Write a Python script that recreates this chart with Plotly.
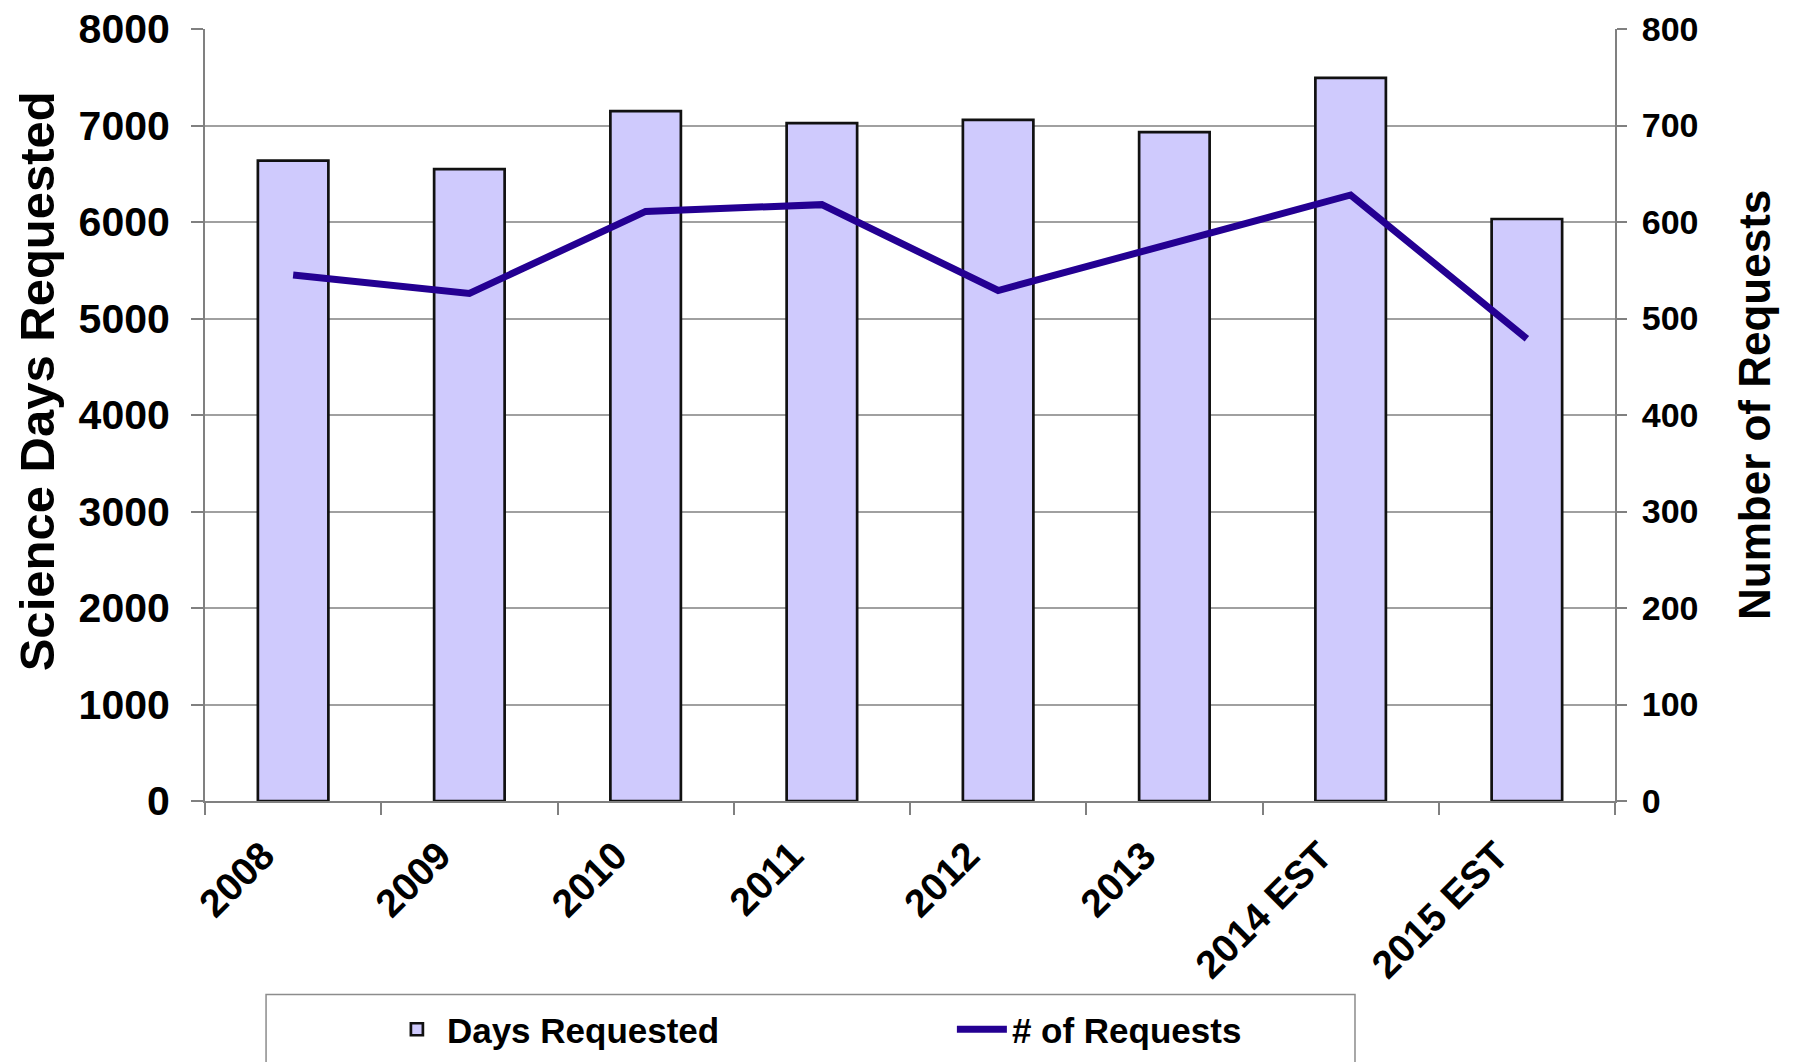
import plotly.graph_objects as go

years = ["2008", "2009", "2010", "2011", "2012", "2013", "2014 EST", "2015 EST"]
days_requested = [6635, 6548, 7148, 7024, 7059, 6931, 7493, 6031]
num_requests = [545, 526, 611, 618, 529, 578, 628, 479]
left_ticks = [0, 1000, 2000, 3000, 4000, 5000, 6000, 7000, 8000]
right_ticks = [0, 100, 200, 300, 400, 500, 600, 700, 800]

FONT = "Liberation Sans, Arial, sans-serif"
BAR_FILL = "#CFCAFD"
LINE_COL = "#240092"
GRID = "#A0A0A0"
AXIS = "#808080"

fig = go.Figure()
fig.add_trace(go.Bar(
    x=years, y=days_requested, name="Days Requested",
    marker=dict(color=BAR_FILL, line=dict(color="#111111", width=2.7)),
    width=0.4, yaxis="y",
))
fig.add_trace(go.Scatter(
    x=years, y=num_requests, name="# of Requests", mode="lines",
    line=dict(color=LINE_COL, width=7), yaxis="y2",
))

fig.update_layout(
    width=1795, height=1062,
    margin=dict(l=197, r=188, t=21, b=268.5, autoexpand=False),
    paper_bgcolor="white", plot_bgcolor="white",
    font=dict(family=FONT, color="black", weight="bold"),
    showlegend=True,
    legend=dict(
        orientation="h", x=0.129, xanchor="left", y=-0.296, yanchor="middle",
        font=dict(family=FONT, size=35, color="black", weight="bold"),
        bgcolor="rgba(0,0,0,0)", borderwidth=0,
        entrywidth=500, entrywidthmode="pixels", itemwidth=50,
    ),
    xaxis=dict(
        type="category", categoryorder="array", categoryarray=years,
        range=[-0.5, 7.5], automargin=False,
        tickangle=-45, tickfont=dict(family=FONT, size=39, weight="bold"),
        ticks="outside", ticklen=12, tickcolor=AXIS, tickwidth=1.5,
        tickson="boundaries",
        showline=True, linecolor=AXIS, linewidth=2,
        showgrid=False, zeroline=False,
        ticklabelstandoff=14, ticklabelshift=-30,
        ticklabeloverflow="allow",
    ),
    xaxis2=dict(
        overlaying="x", anchor="y", side="bottom", automargin=False,
        range=[-0.5, 7.5], tickvals=[i - 0.5 for i in range(len(years) + 1)],
        ticks="inside", ticklen=12, tickcolor=AXIS, tickwidth=1.5,
        showticklabels=False, showgrid=False, zeroline=False, showline=False,
    ),
    yaxis=dict(
        range=[0, 8000], tickvals=left_ticks, automargin=False,
        tickfont=dict(family=FONT, size=41, weight="bold"),
        ticks="outside", ticklen=12, tickcolor=AXIS, tickwidth=1.5,
        showline=True, linecolor=AXIS, linewidth=2,
        showgrid=True, gridcolor=GRID, gridwidth=1.6,
        zeroline=False, ticklabelstandoff=13,
        ticklabeloverflow="allow",
    ),
    yaxis2=dict(
        range=[0, 800], tickvals=right_ticks, automargin=False,
        overlaying="y", side="right", anchor="x",
        tickfont=dict(family=FONT, size=34, weight="bold"),
        ticks="outside", ticklen=10, tickcolor=AXIS, tickwidth=1.5,
        showline=True, linecolor=AXIS, linewidth=2,
        showgrid=False, zeroline=False, ticklabelstandoff=8,
        ticklabeloverflow="allow",
    ),
    shapes=[dict(
        type="rect", xref="paper", yref="paper",
        x0=0.0433, x1=0.8156, y0=-0.2505, y1=-0.40,
        line=dict(color="#8C8C8C", width=1.5), fillcolor="rgba(0,0,0,0)",
        layer="below",
    )],
    annotations=[
        dict(text="Science Days Requested", xref="paper", yref="paper",
             x=-0.1195, y=0.543, xanchor="center", yanchor="middle",
             textangle=-90, showarrow=False,
             font=dict(family=FONT, size=49, weight="bold")),
        dict(text="Number of Requests", xref="paper", yref="paper",
             x=1.0993, y=0.513, xanchor="center", yanchor="middle",
             textangle=-90, showarrow=False,
             font=dict(family=FONT, size=44, weight="bold")),
    ],
)

fig.write_html("out.html")
